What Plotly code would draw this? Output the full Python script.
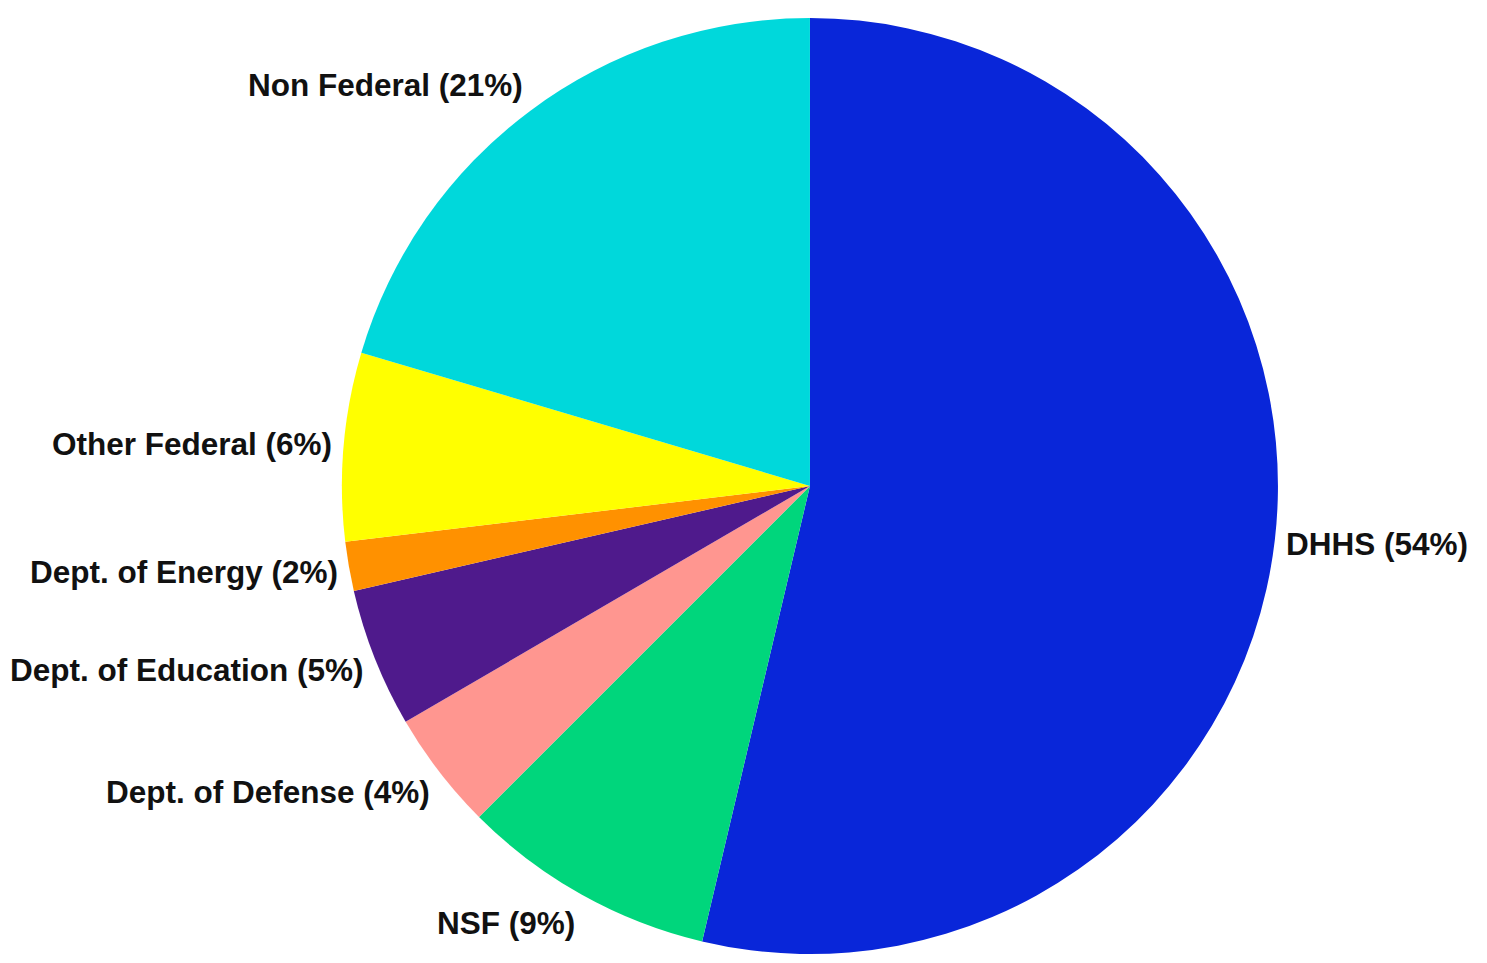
import numpy as np
import plotly.graph_objects as go

labels = ["DHHS", "NSF", "Dept. of Defense", "Dept. of Education",
          "Dept. of Energy", "Other Federal", "Non Federal"]
values = [53.7, 8.8, 4.1, 4.8, 1.7, 6.5, 20.4]
pct_labels = ["54%", "9%", "4%", "5%", "2%", "6%", "21%"]
colors = ["#0926d9", "#00d67c", "#ff9690", "#4f1a8c", "#ff9100", "#ffff00", "#00d8db"]

texts = [f"{l} ({p})" for l, p in zip(labels, pct_labels)]

W, H = 1487, 963
dom_x = [0.2093, 0.8693]
dom_y = [0.0176, 0.9896]

fig = go.Figure(go.Pie(
    labels=labels,
    values=values,
    textinfo="none",
    sort=False,
    direction="clockwise",
    rotation=0,
    marker=dict(colors=colors, line=dict(width=0)),
    domain=dict(x=dom_x, y=dom_y),
    showlegend=False,
    hoverinfo="label+percent",
))

# label placement derived from the pie geometry and the slice values
cx = W * (dom_x[0] + dom_x[1]) / 2
cy = H * (1 - (dom_y[0] + dom_y[1]) / 2)
r = min(W * (dom_x[1] - dom_x[0]), H * (dom_y[1] - dom_y[0])) / 2
vals = np.array(values, dtype=float)
cum = np.cumsum(vals) - vals / 2
theta = cum / vals.sum() * 2 * np.pi  # clockwise from 12 o'clock
kx, ky = 1.02, 1.07
for t, txt in zip(theta, texts):
    px = cx + kx * r * np.sin(t)
    py = cy - ky * r * np.cos(t)
    fig.add_annotation(
        x=px / W, y=1 - py / H, xref="paper", yref="paper",
        text=txt, showarrow=False,
        xanchor="left" if np.sin(t) >= 0 else "right",
        yanchor="middle",
        font=dict(family="Liberation Sans, Arial, sans-serif", size=31.5,
                  weight="bold", color="#111111"),
    )

fig.update_layout(
    width=W, height=H,
    margin=dict(l=0, r=0, t=0, b=0),
    paper_bgcolor="white",
    plot_bgcolor="white",
)

fig.write_html("out.html")
